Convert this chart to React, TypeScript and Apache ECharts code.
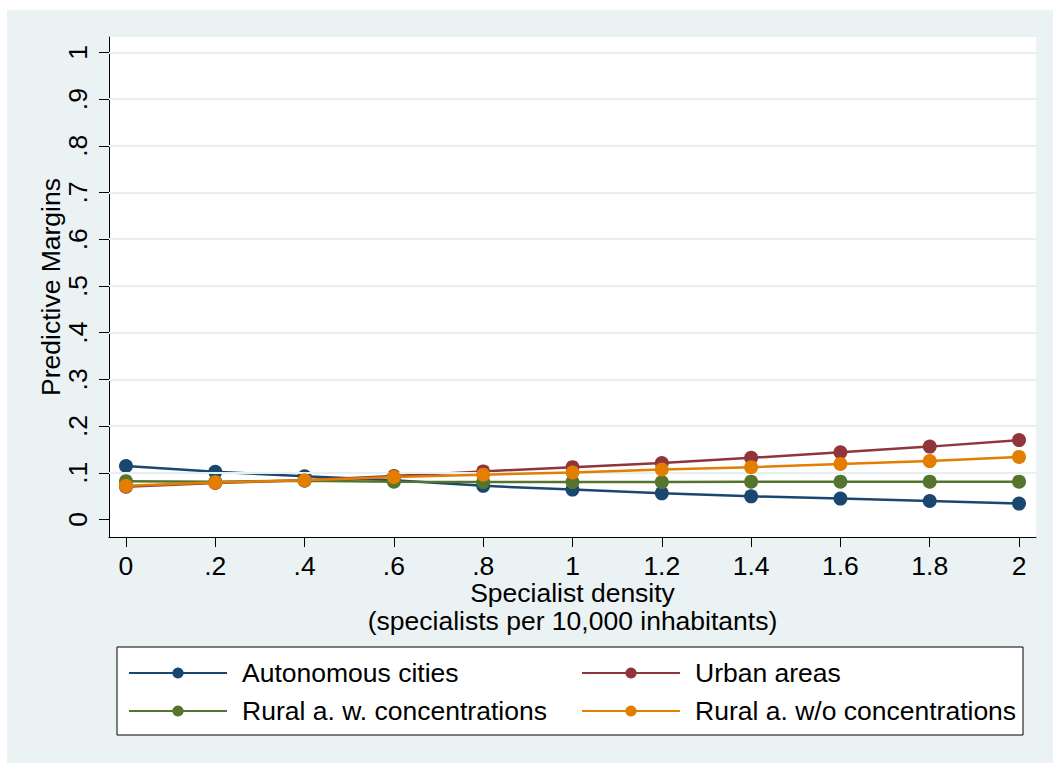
import React, { useEffect, useRef } from "react";
import * as echarts from "echarts";

const xValues = [0, 0.2, 0.4, 0.6, 0.8, 1, 1.2, 1.4, 1.6, 1.8, 2];
const autonomousCities = [0.1145, 0.102, 0.0926, 0.084, 0.072, 0.064, 0.056, 0.0496, 0.0447, 0.0396, 0.034];
const urbanAreas = [0.07, 0.078, 0.084, 0.093, 0.103, 0.112, 0.121, 0.132, 0.144, 0.156, 0.17];
const ruralWith = [0.082, 0.081, 0.083, 0.081, 0.080, 0.080, 0.080, 0.081, 0.081, 0.081, 0.081];
const ruralWithout = [0.072, 0.079, 0.084, 0.091, 0.096, 0.1006, 0.107, 0.112, 0.119, 0.125, 0.134];
const xTicks = [0, 0.2, 0.4, 0.6, 0.8, 1, 1.2, 1.4, 1.6, 1.8, 2];
const yTicks = [0, 0.1, 0.2, 0.3, 0.4, 0.5, 0.6, 0.7, 0.8, 0.9, 1];
const seriesNames = ["Autonomous cities", "Urban areas", "Rural a. w. concentrations", "Rural a. w/o concentrations"];
const seriesColors = ["#1a476f", "#90353b", "#55752f", "#e37e00"];

const fmt = (v: number) => {
  const r = Math.round(v * 10) / 10;
  if (r === 0) return "0";
  const s = String(r);
  return s.startsWith("0.") ? s.slice(1) : s;
};

const FONT = "Liberation Sans, Arial, Helvetica, sans-serif";
const FS = 26.5;

export default function App() {
  const ref = useRef<HTMLDivElement>(null);
  useEffect(() => {
    if (!ref.current) return;
    const chart = echarts.init(ref.current, null, { renderer: "svg" });
    const allData = [autonomousCities, urbanAreas, ruralWith, ruralWithout];
    const series = allData.map((arr, i) => ({
      name: seriesNames[i],
      type: "line",
      data: xValues.map((x, j) => [x, arr[j]]),
      symbol: "circle",
      symbolSize: 14,
      lineStyle: { width: 2.5, color: seriesColors[i] },
      itemStyle: { color: seriesColors[i] },
      z: 2 + i,
    }));
    const legendPos = [
      { left: 128, top: 658 },
      { left: 581, top: 658 },
      { left: 128, top: 696 },
      { left: 581, top: 696 },
    ];
    const legends = seriesNames.map((n, i) => ({
      data: [n],
      left: legendPos[i].left,
      top: legendPos[i].top,
      padding: 0,
      itemWidth: 98,
      itemHeight: 14,
      selectedMode: false,
      textStyle: {
        fontFamily: FONT,
        fontSize: FS,
        color: "#000",
        lineHeight: 30,
        padding: [0, 0, 0, 10],
      },
    }));
    chart.setOption({
      animation: false,
      backgroundColor: "#ffffff",
      textStyle: { fontFamily: FONT },
      graphic: [
        {
          type: "rect",
          z: -100,
          shape: { x: 7, y: 10, width: 1046, height: 753 },
          style: { fill: "#eaf2f3" },
        },
        {
          type: "rect",
          z: 3,
          shape: { x: 117, y: 647, width: 906, height: 88 },
          style: { fill: "#ffffff", stroke: "#000000", lineWidth: 1 },
        },
      ],
      grid: {
        left: 109,
        top: 37,
        right: 17,
        bottom: 226,
        show: true,
        backgroundColor: "#ffffff",
        borderWidth: 0,
      },
      legend: legends,
      xAxis: {
        type: "value",
        min: -0.038,
        max: 2.038,
        name: "Specialist density\n(specialists per 10,000 inhabitants)",
        nameLocation: "middle",
        nameGap: 42,
        nameMoveOverlap: false,
        nameTextStyle: { fontFamily: FONT, fontSize: FS, color: "#000", lineHeight: 28 },
        axisLine: { show: true, onZero: false, lineStyle: { color: "#000", width: 1 } },
        axisTick: { show: true, length: 10, customValues: xTicks, lineStyle: { color: "#000" } },
        axisLabel: {
          customValues: xTicks,
          formatter: (v: number) => fmt(v),
          fontFamily: FONT,
          fontSize: FS,
          color: "#000",
          margin: 15,
        },
        splitLine: { show: false },
      },
      yAxis: {
        type: "value",
        min: -0.0375,
        max: 1.033,
        name: "Predictive Margins",
        nameLocation: "middle",
        nameRotate: 90,
        nameGap: 45,
        nameMoveOverlap: false,
        nameTextStyle: { fontFamily: FONT, fontSize: FS, color: "#000" },
        axisLine: { show: true, onZero: false, lineStyle: { color: "#000", width: 1 } },
        axisTick: { show: true, length: 10, customValues: yTicks, lineStyle: { color: "#000" } },
        axisLabel: {
          customValues: yTicks,
          formatter: (v: number) => fmt(v),
          rotate: 90,
          fontFamily: FONT,
          fontSize: FS,
          color: "#000",
          margin: 18,
        },
        splitLine: { show: false },
      },
      series: [
        ...series,
        {
          type: "line",
          data: [],
          silent: true,
          markLine: {
            silent: true,
            symbol: "none",
            label: { show: false },
            lineStyle: { color: "#e6eff1", width: 2, type: "solid" },
            data: yTicks.filter((v) => v > 0).map((v) => ({ yAxis: v })),
          },
          z: 1,
        },
      ],
    });
    return () => chart.dispose();
  }, []);
  return (
    <div
      ref={ref}
      style={{ position: "fixed", left: 0, top: 0, width: 1053, height: 763 }}
    />
  );
}
